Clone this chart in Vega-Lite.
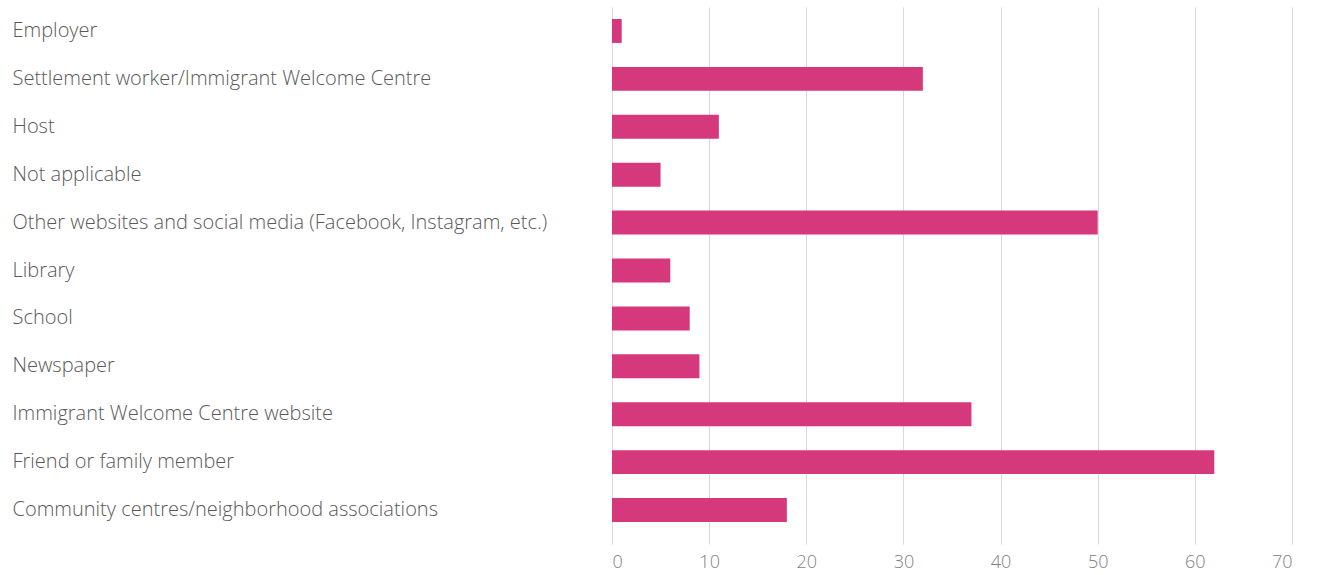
{
  "$schema": "https://vega.github.io/schema/vega-lite/v6.json",
  "autosize": {"type": "none"},
  "padding": {"left": 612, "top": 7, "right": 27, "bottom": 41},
  "width": 680,
  "height": 527,
  "background": "white",
  "config": {"view": {"stroke": null}, "font": "Open Sans"},
  "data": {
    "values": [
      {"source": "Employer", "count": 1},
      {"source": "Settlement worker/Immigrant Welcome Centre", "count": 32},
      {"source": "Host", "count": 11},
      {"source": "Not applicable", "count": 5},
      {"source": "Other websites and social media (Facebook, Instagram, etc.)", "count": 50},
      {"source": "Library", "count": 6},
      {"source": "School", "count": 8},
      {"source": "Newspaper", "count": 9},
      {"source": "Immigrant Welcome Centre website", "count": 37},
      {"source": "Friend or family member", "count": 62},
      {"source": "Community centres/neighborhood associations", "count": 18}
    ]
  },
  "mark": {"type": "bar", "color": "#d6397b"},
  "encoding": {
    "y": {
      "field": "source",
      "type": "nominal",
      "sort": null,
      "scale": {"paddingInner": 0.5, "paddingOuter": 0.25},
      "axis": {
        "title": null,
        "domain": false,
        "ticks": false,
        "labelAlign": "left",
        "labelPadding": 600,
        "labelLimit": 620,
        "labelFontSize": 20,
        "labelFontWeight": 300,
        "labelColor": "#595959",
        "labelFont": "Open Sans"
      }
    },
    "x": {
      "field": "count",
      "type": "quantitative",
      "scale": {"domain": [0, 70], "nice": false},
      "axis": {
        "title": null,
        "values": [0, 10, 20, 30, 40, 50, 60, 70],
        "domain": false,
        "grid": true,
        "gridColor": "#d9d9d9",
        "tickColor": "#d9d9d9",
        "tickSize": 10,
        "labelPadding": 9,
        "labelFontSize": 18,
        "labelFontWeight": 300,
        "labelColor": "#7f7f7f",
        "labelFont": "Open Sans"
      }
    }
  }
}
